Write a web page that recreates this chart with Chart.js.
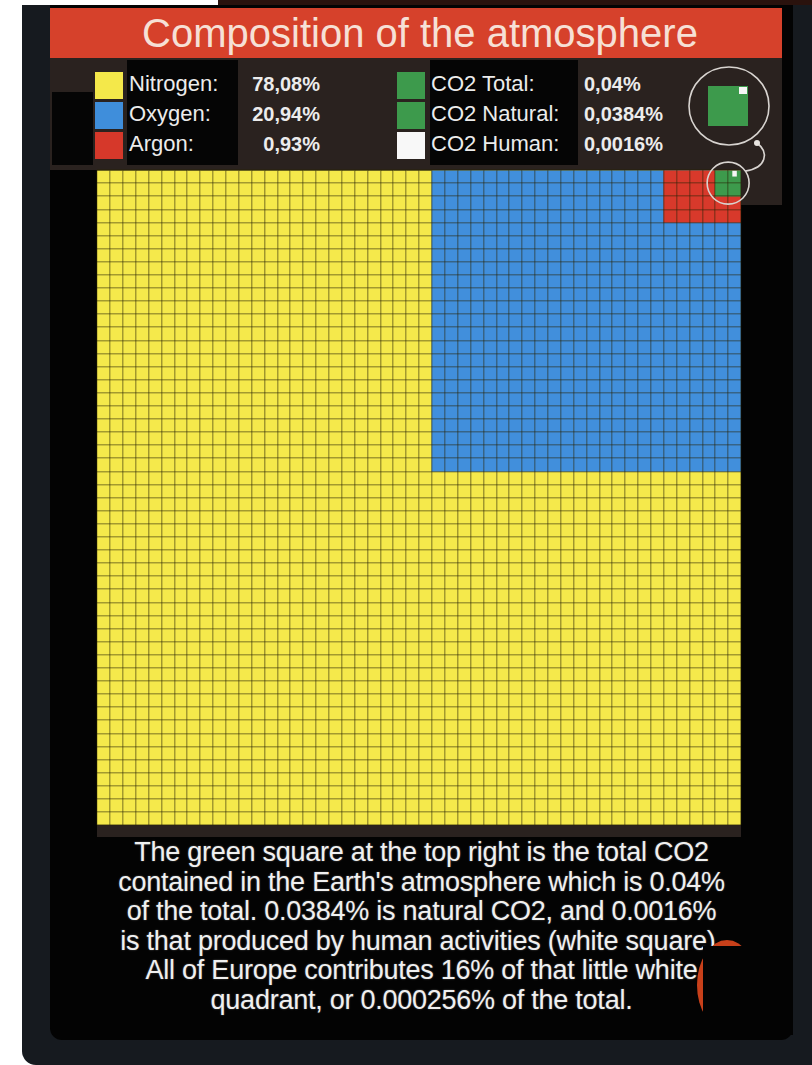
<!DOCTYPE html>
<html>
<head>
<meta charset="utf-8">
<script src="https://cdn.jsdelivr.net/npm/chart.js@4.4.1/dist/chart.umd.min.js"></script>
<style>
  html, body { margin: 0; padding: 0; }
  body { width: 812px; height: 1065px; background: #ffffff; position: relative; overflow: hidden;
         font-family: "Liberation Sans", Arial, sans-serif; }
  .abs { position: absolute; }
  #topStrip { left: 218px; top: 0; width: 594px; height: 5px; background: #2a120d; }
  #frame { left: 22px; top: 5px; width: 790px; height: 1060px; background: #161a1f; border-bottom-left-radius: 14px; }
  #panel { left: 50px; top: 5px; width: 743px; height: 1035px; background: #030303; border-radius: 0 0 12px 12px; }
  #title { left: 50px; top: 8px; width: 732px; height: 50px; background: #d6412b; color: #f6e0d6;
           font-size: 40px; line-height: 50px; text-align: center; text-indent: 8px; }
  #legend { left: 50px; top: 58px; width: 732px; height: 112px; background: #2a221f; }
  .blk { background: #050505; }
  .sw { position: absolute; width: 28px; height: 27px; }
  .lbl { position: absolute; color: #ececec; font-size: 22px; line-height: 26px; white-space: nowrap; }
  .val { position: absolute; color: #ececec; font-size: 20px; font-weight: bold; line-height: 26px; white-space: nowrap; }
  #wrap { left: 50px; top: 58px; width: 743px; height: 779px; }
  #note { left: 50px; top: 838px; width: 743px; text-align: center; color: #f0f0f0; font-size: 27px;
          line-height: 29.6px; letter-spacing: -0.25px; text-shadow: 0 0 2px rgba(255,255,255,0.35); }
</style>
</head>
<body>
<div class="abs" id="frame"></div>
<div class="abs" id="topStrip"></div>
<div class="abs" id="panel"></div>
<div class="abs" id="title">Composition of the atmosphere</div>
<div class="abs" id="legend"></div>
<div class="abs blk" style="left:127px;top:60px;width:111px;height:105px;"></div>
<div class="abs blk" style="left:430px;top:60px;width:148px;height:105px;"></div>
<div class="abs blk" style="left:52px;top:92px;width:41px;height:73px;"></div>
<div class="abs" style="left:741px;top:170px;width:41px;height:35px;background:#2a221f;"></div>
<div class="abs" style="left:97px;top:823px;width:644px;height:14px;background:#2a221f;"></div>
<div class="abs" id="legendItems"></div>
<div class="abs" id="wrap"><canvas id="chart"></canvas></div>
<div class="abs" id="note"></div>
<div class="abs" style="left:697px;top:940px;width:60px;height:90px;border-radius:50%;background:#c8401a;"></div>
<div class="abs" style="left:703px;top:946px;width:90px;height:89px;background:#030303;"></div>
<script>
// grid: 50 x 50 cells, one cell = 0.04 %
const gridCols = 50;
const gridRows = 50;

// legend (text as printed on the picture)
const legendLeftLabels = ['Nitrogen:', 'Oxygen:', 'Argon:'];
const legendLeftValues = ['78,08%', '20,94%', '0,93%'];
const legendLeftColors = ['#f4e84a', '#3f8edb', '#d6382a'];
const legendRightLabels = ['CO2 Total:', 'CO2 Natural:', 'CO2 Human:'];
const legendRightValues = ['0,04%', '0,0384%', '0,0016%'];
const legendRightColors = ['#3d9a4c', '#3d9a4c', '#f8f8f8'];

// blocks (columns from the left, rows from the top)
const seriesNames = ['CO2 Human', 'CO2 Natural', 'Argon', 'Oxygen', 'Nitrogen'];
const seriesColors = ['#f6f6f6', '#3d9a4c', '#d8392b', '#418fdc', '#f5e94b'];
const blockColStart = [49, 48, 44, 26, 0];
const blockColEnd = [50, 50, 50, 50, 50];
const blockRowEnd = [0.5, 2, 4, 23, 50];
const blockBarWidth = [0.35, 1, 1, 1, 1];

const noteLines = [
  'The green square at the top right is the total CO2',
  "contained in the Earth's atmosphere which is 0.04%",
  'of the total. 0.0384% is natural CO2, and 0.0016%',
  'is that produced by human activities (white square).',
  'All of Europe contributes 16% of that little white',
  'quadrant, or 0.000256% of the total.'
];

// legend markup
const items = document.getElementById('legendItems');
let html = '';
const rowTops = [72, 102, 132];
legendLeftLabels.forEach((t, i) => {
  html += `<div class="sw" style="left:95px;top:${rowTops[i]}px;background:${legendLeftColors[i]}"></div>`;
  html += `<div class="lbl" style="left:129px;top:${rowTops[i] - 1}px">${t}</div>`;
  html += `<div class="val" style="left:230px;width:90px;text-align:right;top:${rowTops[i] - 1}px">${legendLeftValues[i]}</div>`;
});
legendRightLabels.forEach((t, i) => {
  html += `<div class="sw" style="left:397px;top:${rowTops[i]}px;background:${legendRightColors[i]}"></div>`;
  html += `<div class="lbl" style="left:431px;top:${rowTops[i] - 1}px">${t}</div>`;
  html += `<div class="val" style="left:584px;top:${rowTops[i] - 1}px">${legendRightValues[i]}</div>`;
});
items.innerHTML = html;
document.getElementById('note').innerHTML = noteLines.join('<br>');

const labels = [];
for (let c = 0; c < gridCols; c++) labels.push(String(c + 1));

const datasets = seriesNames.map((name, i) => ({
  label: name,
  data: labels.map((_, c) => (c >= blockColStart[i] && c < blockColEnd[i]) ? [0, blockRowEnd[i]] : null),
  backgroundColor: seriesColors[i],
  borderWidth: 0,
  grouped: false,
  barPercentage: blockBarWidth[i],
  categoryPercentage: 1,
  order: i
}));

// magnifier circles around the CO2 cell
const magnifier = {
  id: 'magnifier',
  afterDraw(chart) {
    const ctx = chart.ctx;
    const area = chart.chartArea;
    const xs = chart.scales.x;
    const ys = chart.scales.y;
    const cx = (xs.getPixelForValue(48) + xs.getPixelForValue(49)) / 2;
    const cy = ys.getPixelForValue(1);
    ctx.save();
    ctx.strokeStyle = '#d8d4d0';
    ctx.lineWidth = 1.6;
    // small ring on the grid
    ctx.beginPath();
    ctx.arc(cx, cy, 21, 0, Math.PI * 2);
    ctx.stroke();
    // big ring in the legend band
    const bx = area.right - 12, by = area.top - 64;
    ctx.beginPath();
    ctx.ellipse(bx, by, 40, 39, 0, 0, Math.PI * 2);
    ctx.stroke();
    ctx.fillStyle = seriesColors[1];
    ctx.fillRect(bx - 21, by - 20, 40, 40);
    ctx.fillStyle = seriesColors[0];
    ctx.fillRect(bx + 10, by - 19, 8, 7);
    // connector
    ctx.beginPath();
    ctx.moveTo(bx + 28, by + 37);
    ctx.bezierCurveTo(bx + 40, by + 46, bx + 38, by + 62, cx + 17, cy - 12);
    ctx.stroke();
    ctx.fillStyle = '#e8e4e0';
    ctx.beginPath();
    ctx.arc(bx + 28, by + 37, 3, 0, Math.PI * 2);
    ctx.fill();
    ctx.restore();
  }
};

const gridColor = 'rgba(40, 35, 5, 0.4)';

new Chart(document.getElementById('chart'), {
  type: 'bar',
  data: { labels: labels, datasets: datasets },
  options: {
    responsive: true,
    maintainAspectRatio: false,
    animation: false,
    events: [],
    layout: { padding: { left: 47, top: 112, right: 52, bottom: 12 } },
    scales: {
      x: {
        offset: true,
        ticks: { display: false },
        border: { display: false },
        grid: { z: 1, offset: true, color: gridColor, lineWidth: 1.5, drawTicks: false, tickLength: 0 }
      },
      y: {
        reverse: true,
        min: 0,
        max: gridRows,
        ticks: { display: false, stepSize: 1 },
        border: { display: false },
        grid: { z: 1, color: gridColor, lineWidth: 1.5, drawTicks: false, tickLength: 0 }
      }
    },
    plugins: {
      legend: { display: false },
      tooltip: { enabled: false },
      title: { display: false }
    }
  },
  plugins: [magnifier]
});
</script>
</body>
</html>
